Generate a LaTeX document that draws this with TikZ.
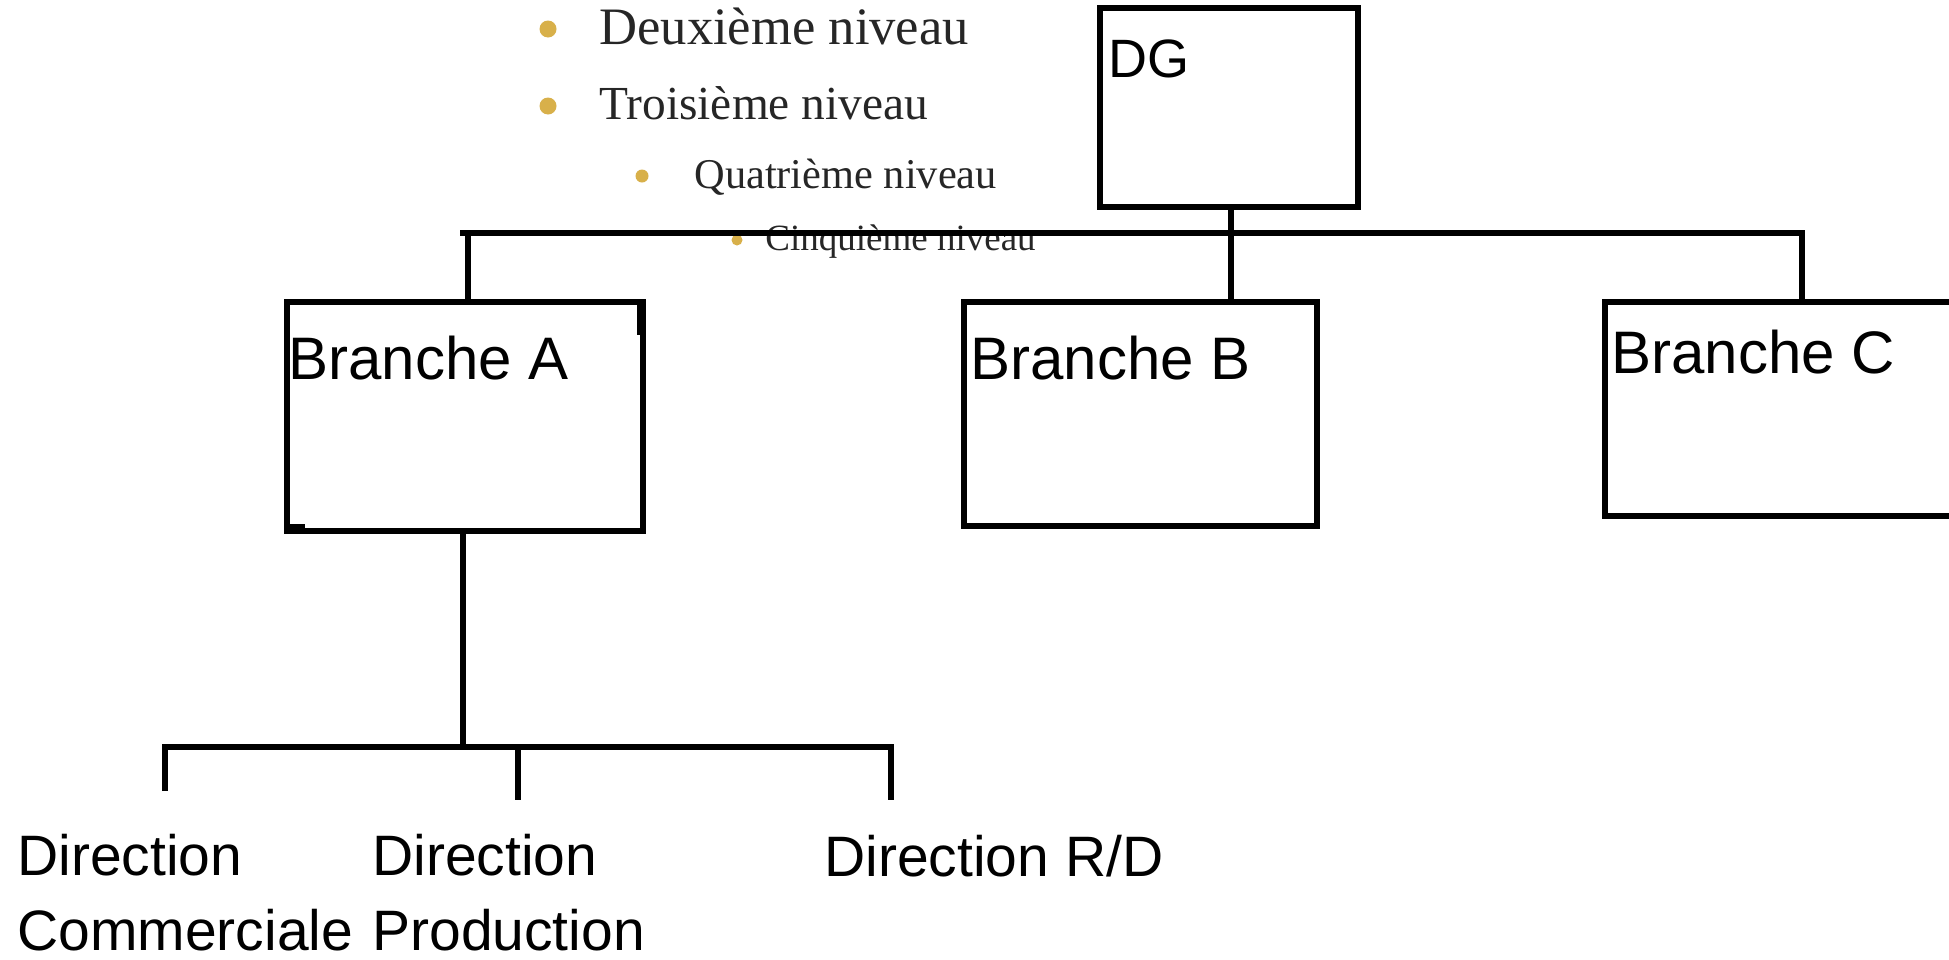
\documentclass[tikz,border=0pt]{standalone}
\usepackage{fontspec}
\setmainfont{Liberation Serif}
\newfontfamily\chartfont{Liberation Sans}
\definecolor{gold}{HTML}{D8B04A}
\definecolor{txt}{HTML}{262626}
\begin{document}
\begin{tikzpicture}[x=0.5pt,y=-0.5pt,
  box/.style={draw, line width=2.8pt, fill=white, inner sep=0pt, outer sep=0pt},
  link/.style={line width=2.8pt, line join=miter},
  lbl/.style={font=\chartfont\fontsize{30}{36}\selectfont, anchor=base west, inner sep=0pt, align=left},
  sub/.style={font=\chartfont\fontsize{28.5}{37.5}\selectfont, anchor=base west, inner sep=0pt, align=left, text depth=0pt},
  item/.style={text=txt, anchor=base west, inner sep=0pt},
  dot/.style={circle, fill=gold, inner sep=0pt}]
\useasboundingbox (0,0) rectangle (1949,959);
\clip (0,0) rectangle (1949,959);
\fill[white] (0,0) rectangle (1949,959);
% bullet list
\node[dot, minimum size=8.5pt] (b2) at (548,29) {};
\node[item, font=\fontsize{26.3}{30}\selectfont] (l2) at (599,44) {Deuxième niveau};
\node[dot, minimum size=8.5pt] (b3) at (548,106) {};
\node[item, font=\fontsize{23.7}{28}\selectfont] (l3) at (599,119) {Troisième niveau};
\node[dot, minimum size=6.5pt] (b4) at (642,176) {};
\node[item, font=\fontsize{21.2}{25}\selectfont] (l4) at (694,188) {Quatrième niveau};
\node[dot, minimum size=5.5pt] (b5) at (737,240) {};
\node[item, font=\fontsize{18.5}{22}\selectfont] (l5) at (765,250) {Cinquième niveau};
% boxes
\node[box, minimum width=129pt, minimum height=99.5pt] (dg) at (1229,107.5) {};
\node[box, minimum width=178pt, minimum height=114.5pt] (a) at (465,416.5) {};
\node[box, minimum width=176.5pt, minimum height=112pt] (b) at (1140.5,414) {};
\node[box, minimum width=200pt, minimum height=107pt] (c) at (1805,409) {};
\fill (637,300) rectangle (643,335);
\fill (285,524) rectangle (305,530);
% box labels
\node[lbl, font=\chartfont\fontsize{27}{32}\selectfont] (tdg) at (1108,77) {DG};
\node[lbl] (ta) at (288,379) {Branche A};
\node[lbl] (tb) at (970,379) {Branche B};
\node[lbl] (tc) at (1611,373) {Branche C};
% top connectors
\coordinate (bl) at (460,233);
\coordinate (jc) at (1802,233);
\coordinate (ja) at (468,233);
\coordinate (jb) at (1231,233);
\draw[link] (bl) -- (jc) -- (jc |- c.north);
\draw[link] (ja) -- (ja |- a.north);
\draw[link] (jb |- dg.south) -- (jb |- b.north);
% lower connectors
\coordinate (js) at (463,747);
\coordinate (d1) at (165,791);
\coordinate (d2) at (518,800);
\coordinate (d3) at (891,800);
\draw[link] (js |- a.south) -- (js);
\draw[link] (d1) -- (d1 |- js) -- (d3 |- js) -- (d3);
\draw[link] (d2 |- js) -- (d2);
% lower labels
\node[sub] (dc) at (17,950) {Direction\\Commerciale};
\node[sub] (dp) at (372,950) {Direction\\Production};
\node[sub] (dr) at (824,876) {Direction R/D};
\end{tikzpicture}
\end{document}
